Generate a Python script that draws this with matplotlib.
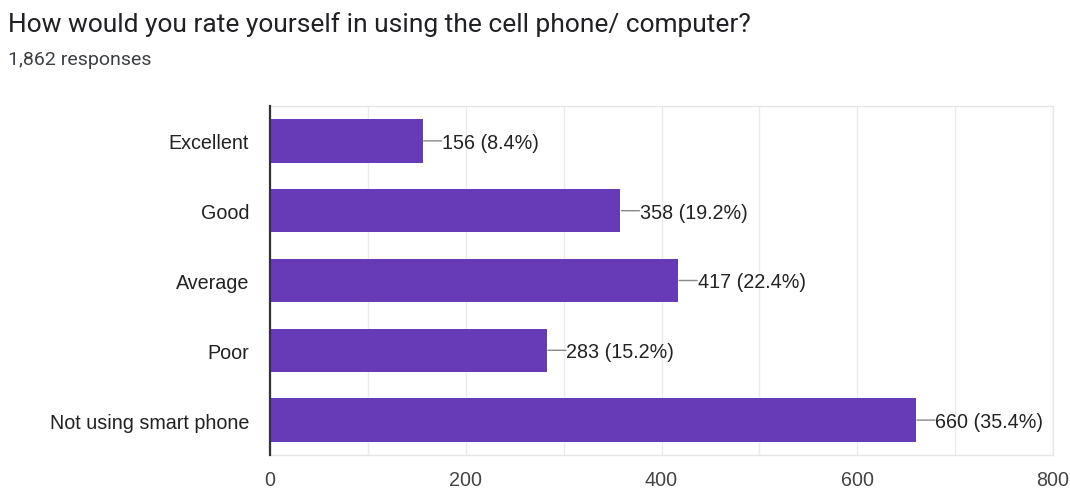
import matplotlib
matplotlib.use("Agg")
import matplotlib.pyplot as plt
from matplotlib.transforms import offset_copy

categories = ["Excellent", "Good", "Average", "Poor", "Not using smart phone"]
counts = [156, 358, 417, 283, 660]
percents = [8.4, 19.2, 22.4, 15.2, 35.4]
total = 1862
xticks = [0, 200, 400, 600, 800]

plt.rcParams["font.family"] = ["Liberation Sans", "DejaVu Sans"]

fig = plt.figure(figsize=(10.70, 4.89), dpi=100)
ax = fig.add_axes([270 / 1070, 1 - 456 / 489, (1053 - 270) / 1070, (456 - 107) / 489])

bar_color = "#673ab7"
ypos = list(range(len(categories)))
ax.barh(ypos, counts, height=0.62, color=bar_color, zorder=3)

ax.set_ylim(len(categories) - 0.5, -0.5)
ax.set_xlim(0, 800)
ax.set_yticks(ypos)
ax.set_yticklabels(categories, fontsize=14.2, color="#222222")
ax.set_xticks(xticks)
ax.set_xticklabels([str(t) for t in xticks], fontsize=14.2, color="#444444")
ax.xaxis.set_minor_locator(matplotlib.ticker.MultipleLocator(100))
ax.tick_params(axis="both", which="both", length=0)
ax.tick_params(axis="x", pad=11)
ax.tick_params(axis="y", pad=15)
ax.grid(axis="x", which="both", color="#ebebeb", linewidth=1, zorder=0)

for side in ["top", "right", "bottom"]:
    ax.spines[side].set_color("#e6e6e6")
    ax.spines[side].set_linewidth(1)
ax.spines["left"].set_color("#333333")
ax.spines["left"].set_linewidth(1.6)
ax.spines["left"].set_zorder(4)

# value labels with a short leader line
for y, c, p in zip(ypos, counts, percents):
    start = offset_copy(ax.transData, fig=fig, x=1, y=0, units="dots")
    ax.annotate("", xy=(c, y), xycoords=start,
                xytext=(13, 0), textcoords="offset points",
                arrowprops=dict(arrowstyle="-", color="#888888", lw=1,
                                shrinkA=0, shrinkB=0))
    ax.annotate(f"{c} ({p}%)", xy=(c, y), xytext=(14, -1),
                textcoords="offset points", va="center", ha="left",
                fontsize=14.2, color="#222222")

fig.text(8 / 1070, 1 - 25 / 489, "How would you rate yourself in using the cell phone/ computer?",
         fontsize=19, color="#202124", va="center", ha="left",
         family=["Roboto", "DejaVu Sans"])
fig.text(8 / 1070, 1 - 60 / 489, f"{total:,} responses",
         fontsize=14, color="#3c4043", va="center", ha="left",
         family=["Roboto", "DejaVu Sans"])

fig.savefig("out.png", dpi=100, facecolor="white")
